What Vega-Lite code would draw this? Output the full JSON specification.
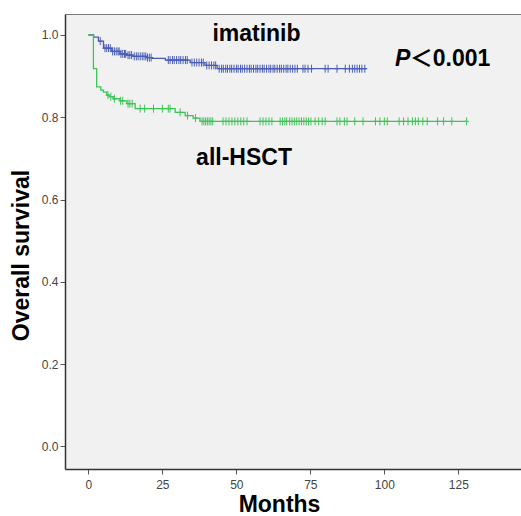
{
  "$schema": "https://vega.github.io/schema/vega-lite/v6.json",
  "width": 462,
  "height": 455,
  "autosize": {"type": "none"},
  "padding": {"left": 65, "top": 14, "right": 0, "bottom": 47},
  "background": "white",
  "config": {
    "view": {"fill": "#f1f1f1", "stroke": null},
    "font": "Liberation Sans"
  },
  "resolve": {"axis": {"x": "independent"}},
  "datasets": {
    "curves": [
      {"group": "imatinib", "month": 0, "surv": 1.0},
      {"group": "imatinib", "month": 1.8, "surv": 0.995},
      {"group": "imatinib", "month": 3.4, "surv": 0.985},
      {"group": "imatinib", "month": 5.1, "surv": 0.968},
      {"group": "imatinib", "month": 7.9, "surv": 0.96},
      {"group": "imatinib", "month": 10.7, "surv": 0.954},
      {"group": "imatinib", "month": 13, "surv": 0.951},
      {"group": "imatinib", "month": 15.1, "surv": 0.948},
      {"group": "imatinib", "month": 19.7, "surv": 0.945},
      {"group": "imatinib", "month": 21.5, "surv": 0.943},
      {"group": "imatinib", "month": 26, "surv": 0.939},
      {"group": "imatinib", "month": 34.4, "surv": 0.933},
      {"group": "imatinib", "month": 39.4, "surv": 0.926},
      {"group": "imatinib", "month": 43.5, "surv": 0.918},
      {"group": "imatinib", "month": 94, "surv": 0.918},
      {"group": "all-HSCT", "month": 0, "surv": 1.0},
      {"group": "all-HSCT", "month": 1.7, "surv": 0.918},
      {"group": "all-HSCT", "month": 2.8, "surv": 0.874},
      {"group": "all-HSCT", "month": 4.2, "surv": 0.866},
      {"group": "all-HSCT", "month": 5.1, "surv": 0.861},
      {"group": "all-HSCT", "month": 6.2, "surv": 0.854},
      {"group": "all-HSCT", "month": 7.1, "surv": 0.85},
      {"group": "all-HSCT", "month": 8.4, "surv": 0.845},
      {"group": "all-HSCT", "month": 10.7, "surv": 0.84},
      {"group": "all-HSCT", "month": 13, "surv": 0.833},
      {"group": "all-HSCT", "month": 15.8, "surv": 0.821},
      {"group": "all-HSCT", "month": 29.3, "surv": 0.812},
      {"group": "all-HSCT", "month": 32.7, "surv": 0.804},
      {"group": "all-HSCT", "month": 35.4, "surv": 0.798},
      {"group": "all-HSCT", "month": 37.7, "surv": 0.79},
      {"group": "all-HSCT", "month": 127.8, "surv": 0.79}
    ],
    "censor": [
      {"group": "imatinib", "month": 4, "surv": 0.985},
      {"group": "imatinib", "month": 5.6, "surv": 0.968},
      {"group": "imatinib", "month": 6.2, "surv": 0.968},
      {"group": "imatinib", "month": 6.8, "surv": 0.968},
      {"group": "imatinib", "month": 7.4, "surv": 0.968},
      {"group": "imatinib", "month": 8.2, "surv": 0.96},
      {"group": "imatinib", "month": 8.8, "surv": 0.96},
      {"group": "imatinib", "month": 9.4, "surv": 0.96},
      {"group": "imatinib", "month": 10, "surv": 0.96},
      {"group": "imatinib", "month": 10.4, "surv": 0.96},
      {"group": "imatinib", "month": 11, "surv": 0.954},
      {"group": "imatinib", "month": 11.6, "surv": 0.954},
      {"group": "imatinib", "month": 12.2, "surv": 0.954},
      {"group": "imatinib", "month": 12.6, "surv": 0.954},
      {"group": "imatinib", "month": 13.4, "surv": 0.951},
      {"group": "imatinib", "month": 14, "surv": 0.951},
      {"group": "imatinib", "month": 14.6, "surv": 0.951},
      {"group": "imatinib", "month": 15.5, "surv": 0.948},
      {"group": "imatinib", "month": 16.2, "surv": 0.948},
      {"group": "imatinib", "month": 16.8, "surv": 0.948},
      {"group": "imatinib", "month": 17.5, "surv": 0.948},
      {"group": "imatinib", "month": 18.2, "surv": 0.948},
      {"group": "imatinib", "month": 18.8, "surv": 0.948},
      {"group": "imatinib", "month": 19.4, "surv": 0.948},
      {"group": "imatinib", "month": 20, "surv": 0.945},
      {"group": "imatinib", "month": 20.6, "surv": 0.945},
      {"group": "imatinib", "month": 21.2, "surv": 0.945},
      {"group": "imatinib", "month": 27, "surv": 0.939},
      {"group": "imatinib", "month": 27.6, "surv": 0.939},
      {"group": "imatinib", "month": 28.4, "surv": 0.939},
      {"group": "imatinib", "month": 29, "surv": 0.939},
      {"group": "imatinib", "month": 29.8, "surv": 0.939},
      {"group": "imatinib", "month": 30.6, "surv": 0.939},
      {"group": "imatinib", "month": 31.2, "surv": 0.939},
      {"group": "imatinib", "month": 32, "surv": 0.939},
      {"group": "imatinib", "month": 32.8, "surv": 0.939},
      {"group": "imatinib", "month": 33.4, "surv": 0.939},
      {"group": "imatinib", "month": 35, "surv": 0.933},
      {"group": "imatinib", "month": 35.8, "surv": 0.933},
      {"group": "imatinib", "month": 36.6, "surv": 0.933},
      {"group": "imatinib", "month": 37.4, "surv": 0.933},
      {"group": "imatinib", "month": 38.2, "surv": 0.933},
      {"group": "imatinib", "month": 38.8, "surv": 0.933},
      {"group": "imatinib", "month": 40, "surv": 0.926},
      {"group": "imatinib", "month": 40.8, "surv": 0.926},
      {"group": "imatinib", "month": 41.6, "surv": 0.926},
      {"group": "imatinib", "month": 42.4, "surv": 0.926},
      {"group": "imatinib", "month": 43, "surv": 0.926},
      {"group": "imatinib", "month": 44.2, "surv": 0.918},
      {"group": "imatinib", "month": 45, "surv": 0.918},
      {"group": "imatinib", "month": 45.6, "surv": 0.918},
      {"group": "imatinib", "month": 46.4, "surv": 0.918},
      {"group": "imatinib", "month": 47, "surv": 0.918},
      {"group": "imatinib", "month": 47.8, "surv": 0.918},
      {"group": "imatinib", "month": 48.4, "surv": 0.918},
      {"group": "imatinib", "month": 49.2, "surv": 0.918},
      {"group": "imatinib", "month": 50, "surv": 0.918},
      {"group": "imatinib", "month": 50.6, "surv": 0.918},
      {"group": "imatinib", "month": 51.4, "surv": 0.918},
      {"group": "imatinib", "month": 52, "surv": 0.918},
      {"group": "imatinib", "month": 52.8, "surv": 0.918},
      {"group": "imatinib", "month": 53.6, "surv": 0.918},
      {"group": "imatinib", "month": 54.4, "surv": 0.918},
      {"group": "imatinib", "month": 55, "surv": 0.918},
      {"group": "imatinib", "month": 55.8, "surv": 0.918},
      {"group": "imatinib", "month": 56.6, "surv": 0.918},
      {"group": "imatinib", "month": 57.2, "surv": 0.918},
      {"group": "imatinib", "month": 58, "surv": 0.918},
      {"group": "imatinib", "month": 58.8, "surv": 0.918},
      {"group": "imatinib", "month": 59.4, "surv": 0.918},
      {"group": "imatinib", "month": 60.2, "surv": 0.918},
      {"group": "imatinib", "month": 61, "surv": 0.918},
      {"group": "imatinib", "month": 61.6, "surv": 0.918},
      {"group": "imatinib", "month": 62.4, "surv": 0.918},
      {"group": "imatinib", "month": 63, "surv": 0.918},
      {"group": "imatinib", "month": 63.8, "surv": 0.918},
      {"group": "imatinib", "month": 64.6, "surv": 0.918},
      {"group": "imatinib", "month": 65.2, "surv": 0.918},
      {"group": "imatinib", "month": 66, "surv": 0.918},
      {"group": "imatinib", "month": 66.8, "surv": 0.918},
      {"group": "imatinib", "month": 67.4, "surv": 0.918},
      {"group": "imatinib", "month": 68.2, "surv": 0.918},
      {"group": "imatinib", "month": 69, "surv": 0.918},
      {"group": "imatinib", "month": 69.8, "surv": 0.918},
      {"group": "imatinib", "month": 70.6, "surv": 0.918},
      {"group": "imatinib", "month": 72.5, "surv": 0.918},
      {"group": "imatinib", "month": 73.2, "surv": 0.918},
      {"group": "imatinib", "month": 74.2, "surv": 0.918},
      {"group": "imatinib", "month": 75.4, "surv": 0.918},
      {"group": "imatinib", "month": 80, "surv": 0.918},
      {"group": "imatinib", "month": 81, "surv": 0.918},
      {"group": "imatinib", "month": 84, "surv": 0.918},
      {"group": "imatinib", "month": 86.8, "surv": 0.918},
      {"group": "imatinib", "month": 88.2, "surv": 0.918},
      {"group": "imatinib", "month": 89.2, "surv": 0.918},
      {"group": "imatinib", "month": 90, "surv": 0.918},
      {"group": "imatinib", "month": 90.8, "surv": 0.918},
      {"group": "imatinib", "month": 91.6, "surv": 0.918},
      {"group": "imatinib", "month": 92.4, "surv": 0.918},
      {"group": "imatinib", "month": 93.4, "surv": 0.918},
      {"group": "all-HSCT", "month": 6.6, "surv": 0.854},
      {"group": "all-HSCT", "month": 7.6, "surv": 0.85},
      {"group": "all-HSCT", "month": 8.8, "surv": 0.845},
      {"group": "all-HSCT", "month": 10.9, "surv": 0.84},
      {"group": "all-HSCT", "month": 11.6, "surv": 0.84},
      {"group": "all-HSCT", "month": 13.4, "surv": 0.833},
      {"group": "all-HSCT", "month": 14, "surv": 0.833},
      {"group": "all-HSCT", "month": 14.8, "surv": 0.833},
      {"group": "all-HSCT", "month": 17.5, "surv": 0.821},
      {"group": "all-HSCT", "month": 19, "surv": 0.821},
      {"group": "all-HSCT", "month": 22, "surv": 0.821},
      {"group": "all-HSCT", "month": 25, "surv": 0.821},
      {"group": "all-HSCT", "month": 27, "surv": 0.821},
      {"group": "all-HSCT", "month": 27.6, "surv": 0.821},
      {"group": "all-HSCT", "month": 31, "surv": 0.812},
      {"group": "all-HSCT", "month": 33.5, "surv": 0.804},
      {"group": "all-HSCT", "month": 36.2, "surv": 0.798},
      {"group": "all-HSCT", "month": 38.4, "surv": 0.79},
      {"group": "all-HSCT", "month": 39, "surv": 0.79},
      {"group": "all-HSCT", "month": 39.6, "surv": 0.79},
      {"group": "all-HSCT", "month": 40.2, "surv": 0.79},
      {"group": "all-HSCT", "month": 40.8, "surv": 0.79},
      {"group": "all-HSCT", "month": 41.4, "surv": 0.79},
      {"group": "all-HSCT", "month": 42, "surv": 0.79},
      {"group": "all-HSCT", "month": 45.5, "surv": 0.79},
      {"group": "all-HSCT", "month": 46.5, "surv": 0.79},
      {"group": "all-HSCT", "month": 47.5, "surv": 0.79},
      {"group": "all-HSCT", "month": 48.5, "surv": 0.79},
      {"group": "all-HSCT", "month": 49.5, "surv": 0.79},
      {"group": "all-HSCT", "month": 50.5, "surv": 0.79},
      {"group": "all-HSCT", "month": 51.5, "surv": 0.79},
      {"group": "all-HSCT", "month": 52.5, "surv": 0.79},
      {"group": "all-HSCT", "month": 53.6, "surv": 0.79},
      {"group": "all-HSCT", "month": 58, "surv": 0.79},
      {"group": "all-HSCT", "month": 59, "surv": 0.79},
      {"group": "all-HSCT", "month": 60, "surv": 0.79},
      {"group": "all-HSCT", "month": 61, "surv": 0.79},
      {"group": "all-HSCT", "month": 62, "surv": 0.79},
      {"group": "all-HSCT", "month": 64.8, "surv": 0.79},
      {"group": "all-HSCT", "month": 65.6, "surv": 0.79},
      {"group": "all-HSCT", "month": 66.4, "surv": 0.79},
      {"group": "all-HSCT", "month": 67, "surv": 0.79},
      {"group": "all-HSCT", "month": 68, "surv": 0.79},
      {"group": "all-HSCT", "month": 68.8, "surv": 0.79},
      {"group": "all-HSCT", "month": 69.6, "surv": 0.79},
      {"group": "all-HSCT", "month": 70.4, "surv": 0.79},
      {"group": "all-HSCT", "month": 71.2, "surv": 0.79},
      {"group": "all-HSCT", "month": 72, "surv": 0.79},
      {"group": "all-HSCT", "month": 72.8, "surv": 0.79},
      {"group": "all-HSCT", "month": 73.6, "surv": 0.79},
      {"group": "all-HSCT", "month": 74.4, "surv": 0.79},
      {"group": "all-HSCT", "month": 75.2, "surv": 0.79},
      {"group": "all-HSCT", "month": 76.6, "surv": 0.79},
      {"group": "all-HSCT", "month": 77.8, "surv": 0.79},
      {"group": "all-HSCT", "month": 79, "surv": 0.79},
      {"group": "all-HSCT", "month": 80, "surv": 0.79},
      {"group": "all-HSCT", "month": 84, "surv": 0.79},
      {"group": "all-HSCT", "month": 85, "surv": 0.79},
      {"group": "all-HSCT", "month": 86.5, "surv": 0.79},
      {"group": "all-HSCT", "month": 87.4, "surv": 0.79},
      {"group": "all-HSCT", "month": 90, "surv": 0.79},
      {"group": "all-HSCT", "month": 92.8, "surv": 0.79},
      {"group": "all-HSCT", "month": 97, "surv": 0.79},
      {"group": "all-HSCT", "month": 98.5, "surv": 0.79},
      {"group": "all-HSCT", "month": 100, "surv": 0.79},
      {"group": "all-HSCT", "month": 101, "surv": 0.79},
      {"group": "all-HSCT", "month": 105, "surv": 0.79},
      {"group": "all-HSCT", "month": 106.5, "surv": 0.79},
      {"group": "all-HSCT", "month": 108, "surv": 0.79},
      {"group": "all-HSCT", "month": 109.5, "surv": 0.79},
      {"group": "all-HSCT", "month": 110.5, "surv": 0.79},
      {"group": "all-HSCT", "month": 111.5, "surv": 0.79},
      {"group": "all-HSCT", "month": 113, "surv": 0.79},
      {"group": "all-HSCT", "month": 114.5, "surv": 0.79},
      {"group": "all-HSCT", "month": 118, "surv": 0.79},
      {"group": "all-HSCT", "month": 120, "surv": 0.79},
      {"group": "all-HSCT", "month": 122.8, "surv": 0.79},
      {"group": "all-HSCT", "month": 127.8, "surv": 0.79}
    ],
    "labels": [
      {"label": "imatinib", "month": 41.9, "surv": 1.003},
      {"label": "all-HSCT", "month": 36.4, "surv": 0.7},
      {"label": "＜0.001", "month": 108.6, "surv": 0.941}
    ],
    "plabel": [
      {"label": "P", "month": 103.6, "surv": 0.941}
    ]
  },
  "layer": [
    {
      "data": {"name": "curves"},
      "mark": {"type": "line", "interpolate": "step-after", "strokeWidth": 1.3},
      "encoding": {
        "x": {
          "field": "month", "type": "quantitative",
          "scale": {"domain": [-7.9, 148.2], "nice": false, "zero": false},
          "axis": {
            "orient": "bottom",
            "values": [0, 25, 50, 75, 100, 125],
            "title": "Months",
            "titleFont": "Liberation Sans", "titleFontSize": 23, "titleFontWeight": "bold", "titleColor": "#000000",
            "titlePadding": 3,
            "titleX": 214,
            "labelFont": "Liberation Sans", "labelFontSize": 12, "labelColor": "#444444", "labelPadding": 5,
            "domainColor": "#333333", "domainWidth": 1.5,
            "tickColor": "#555555", "tickSize": 5, "tickWidth": 1,
            "grid": false
          }
        },
        "y": {
          "field": "surv", "type": "quantitative",
          "scale": {"domain": [-0.055, 1.051], "nice": false, "zero": false},
          "axis": {
            "values": [0, 0.2, 0.4, 0.6, 0.8, 1.0],
            "format": ".1f",
            "title": "Overall survival",
            "titleFont": "Liberation Sans", "titleFontSize": 23, "titleFontWeight": "bold", "titleColor": "#000000",
            "titlePadding": 8,
            "titleY": 241,
            "labelFont": "Liberation Sans", "labelFontSize": 12, "labelColor": "#444444", "labelPadding": 2,
            "domainColor": "#333333", "domainWidth": 1.5,
            "tickColor": "#555555", "tickSize": 5, "tickWidth": 1,
            "grid": false
          }
        },
        "color": {
          "field": "group", "type": "nominal",
          "scale": {"domain": ["imatinib", "all-HSCT"], "range": ["#4a5db6", "#3ec456"]},
          "legend": null
        }
      }
    },
    {
      "data": {"name": "censor"},
      "mark": {"type": "point", "shape": "M-0.6,0L0.6,0M0,-1L0,1", "filled": false, "size": 64, "strokeWidth": 1, "opacity": 1},
      "encoding": {
        "x": {
          "field": "month", "type": "quantitative",
          "axis": {"orient": "top", "labels": false, "ticks": false, "title": null, "grid": false, "domainColor": "#777777", "domainWidth": 1.2}
        },
        "y": {"field": "surv", "type": "quantitative"},
        "color": {"field": "group", "type": "nominal", "legend": null}
      }
    },
    {
      "data": {"name": "labels"},
      "mark": {"type": "text", "align": "left", "baseline": "middle", "font": "Liberation Sans, Noto Sans CJK SC", "fontSize": 23, "fontWeight": "bold", "color": "#000000"},
      "encoding": {
        "x": {"field": "month", "type": "quantitative", "axis": null},
        "y": {"field": "surv", "type": "quantitative"},
        "text": {"field": "label"}
      }
    },
    {
      "data": {"name": "plabel"},
      "mark": {"type": "text", "align": "left", "baseline": "middle", "font": "Liberation Sans", "fontSize": 23, "fontWeight": "bold", "fontStyle": "italic", "color": "#000000"},
      "encoding": {
        "x": {"field": "month", "type": "quantitative", "axis": null},
        "y": {"field": "surv", "type": "quantitative"},
        "text": {"field": "label"}
      }
    }
  ]
}
